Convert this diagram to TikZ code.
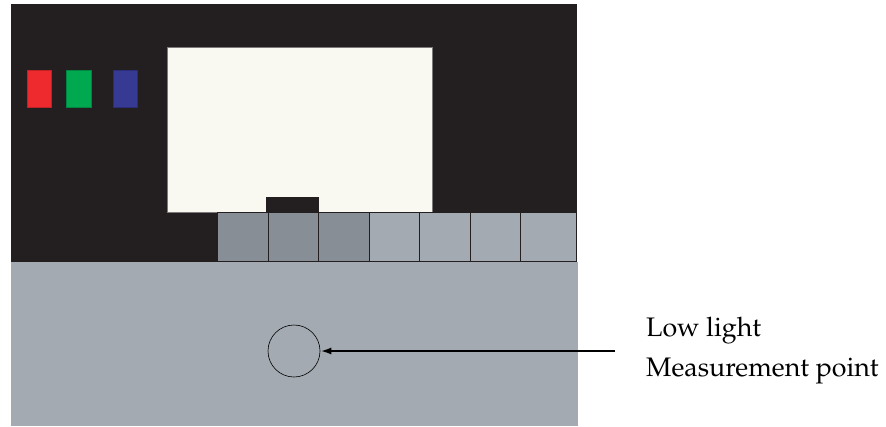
\documentclass[tikz,border=0pt]{standalone}
\usepackage[T1]{fontenc}
\usepackage{mathpazo}
\usetikzlibrary{arrows.meta}
\definecolor{panelblack}{HTML}{231F20}
\definecolor{screenwhite}{HTML}{F9F9F2}
\definecolor{basegray}{HTML}{A4AAB2}
\definecolor{darkpatch}{HTML}{878E96}
\definecolor{lightpatch}{HTML}{A4AAB2}
\definecolor{ledred}{HTML}{EE2A2E}
\definecolor{ledgreen}{HTML}{00A94F}
\definecolor{ledblue}{HTML}{363A93}
\tikzset{
  patch/.style={draw=panelblack, line width=1pt, minimum width=50.5pt, minimum height=49pt, inner sep=0pt, anchor=north west},
  led/.style={fill=#1, draw=#1!80!black, line width=0.4pt, minimum width=24.5pt, minimum height=36.5pt, inner sep=0pt, anchor=north west},
  lbl/.style={font=\fontsize{26.8}{33}\selectfont, anchor=base west, inner sep=0pt}
}
\begin{document}
\begin{tikzpicture}[x=1pt,y=-1pt]
\useasboundingbox (0,0) rectangle (886,426);
% panel
\fill[panelblack] (11,4) rectangle (577,262);
\fill[basegray] (11,262) rectangle (578,426);
% screen
\node[fill=screenwhite, draw=panelblack!60, line width=0.4pt, minimum width=265pt, minimum height=165pt, inner sep=0pt, anchor=north west] (screen) at (167,47) {};
\node[fill=panelblack, minimum width=53pt, minimum height=15pt, inner sep=0pt, anchor=south west] (tab) at (266,212.5) {};
% leds
\node[led=ledred] (red) at (26.5,70) {};
\node[led=ledgreen] (green) at (66,70) {};
\node[led=ledblue] (blue) at (112.5,70) {};
% patches
\node[patch, fill=darkpatch] (p1) at (217,212) {};
\node[patch, fill=darkpatch] (p2) at (267.5,212) {};
\node[patch, fill=darkpatch] (p3) at (318,212) {};
\node[patch, fill=lightpatch] (p4) at (368.5,211.5) {};
\node[patch, fill=lightpatch] (p5) at (419,211.5) {};
\node[patch, fill=lightpatch] (p6) at (469.5,211.5) {};
\node[patch, fill=lightpatch, minimum width=55.5pt] (p7) at (520,211.5) {};
% measurement point
\node[circle, draw=black, line width=0.6pt, minimum size=52pt, inner sep=0pt] (mp) at (294,351) {};
\coordinate (astart) at (615,351);
\draw[line width=2.2pt, -{Latex[length=11pt,width=7pt]}] (astart) -- (mp.east);
\node[lbl] (l1) at (646,336) {Low light};
\node[lbl] (l2) at (646,376) {Measurement point};
\end{tikzpicture}
\end{document}
